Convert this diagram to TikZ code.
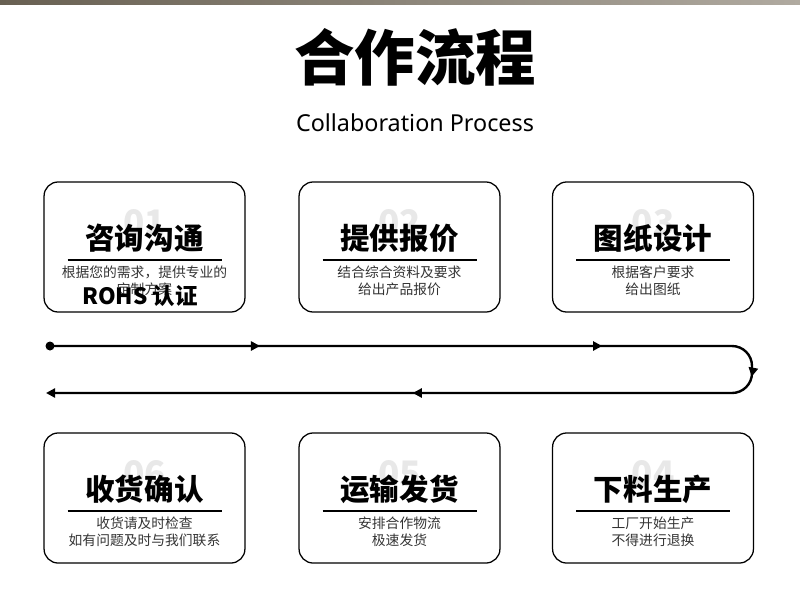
\documentclass[tikz,border=0pt]{standalone}
\usepackage{fontspec}
\setmainfont{Noto Sans}
\newfontfamily\cjk{Noto Sans CJK SC}
\usetikzlibrary{arrows.meta,decorations.markings}
\definecolor{barleft}{RGB}{104,96,82}
\definecolor{barright}{RGB}{176,170,160}
\definecolor{notegray}{RGB}{51,51,51}

\begin{document}
\begin{tikzpicture}[x=0.025cm, y=-0.025cm,
    every node/.style={inner sep=0pt, font=\cjk},
    card/.style={draw, line width=0.9pt, rounded corners=10pt, minimum width=5.02cm, minimum height=3.25cm},
    heading/.style={font=\cjk\bfseries\fontsize{21}{21}\selectfont},
    note/.style={font=\cjk\fontsize{9.8}{12.1}\selectfont, text=notegray, align=center},
    bignum/.style={font=\cjk\bfseries\fontsize{25}{25}\selectfont, text=black!9},
    midtip/.tip={Triangle[length=6.5pt,width=6.5pt]},
    flow/.style={line width=1.7pt, rounded corners=0.5cm, -midtip,
        postaction={decorate}, decoration={markings,
        mark=at position 5.25cm with {\arrow{midtip}},
        mark=at position 13.8cm with {\arrow{midtip}},
        mark=at position 18.1cm with {\arrow{midtip}},
        mark=at position 26.77cm with {\arrow{midtip}}}}]
    \useasboundingbox (0,0) rectangle (800,593);
    \shade[left color=barleft, right color=barright] (0,0) rectangle (800,4);

    \node[font=\cjk\bfseries\fontsize{43}{43}\selectfont] (title) at (415,57) {合作流程};
    \node[font=\rmfamily\fontsize{16.6}{16.6}\selectfont] (subtitle) at (415,123) {Collaboration Process};

    % six steps, numbered round the loop
    \foreach \n/\cx/\cy/\num/\head/\txt in {
        1/144.5/247/01/咨询沟通/{根据您的需求，提供专业的\\定制方案},
        2/399.5/247/02/提供报价/{结合综合资料及要求\\给出产品报价},
        3/653/247/03/图纸设计/{根据客户要求\\给出图纸},
        4/144.5/498/06/收货确认/{收货请及时检查\\如有问题及时与我们联系},
        5/399.5/498/05/运输发货/{安排合作物流\\极速发货},
        6/653/498/04/下料生产/{工厂开始生产\\不得进行退换}} {
        \node[card] (card\n) at (\cx,\cy) {};
        \node[bignum] (num\n) at (\cx,\cy-24) {\num};
        \node[heading] (head\n) at (\cx,\cy-9) {\head};
        \draw[line width=1pt] (\cx-77,\cy+13) -- (\cx+77,\cy+13);
        \node[note] (note\n) at (\cx,\cy+33.5) {\txt};
    }
    \node[font=\cjk\bfseries\fontsize{16}{16}\selectfont] (rohs) at (140,296) {ROHS 认证};

    % the process line
    \coordinate (start) at (50,346);
    \coordinate (turnT) at (752,346);
    \coordinate (turnB) at (752,393);
    \coordinate (stop) at (46,393);
    \draw[flow] (start) -- (turnT) -- (turnB) -- (stop);
    \fill (start) circle (3.2pt);
\end{tikzpicture}
\end{document}
